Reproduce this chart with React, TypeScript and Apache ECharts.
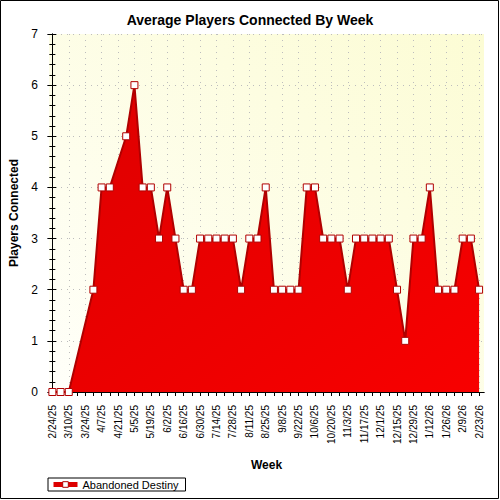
import React, { useEffect, useRef } from 'react';
import * as echarts from 'echarts';

const chartTitle = 'Average Players Connected By Week';
const seriesName = 'Abandoned Destiny';
const xAxisTitle = 'Week';
const yAxisTitle = 'Players Connected';

const weeks = [
  '2/24/25', '3/3/25', '3/10/25', '3/17/25', '3/24/25', '3/31/25', '4/7/25', '4/14/25',
  '4/21/25', '4/28/25', '5/5/25', '5/12/25', '5/19/25', '5/26/25', '6/2/25', '6/9/25',
  '6/16/25', '6/23/25', '6/30/25', '7/7/25', '7/14/25', '7/21/25', '7/28/25', '8/4/25',
  '8/11/25', '8/18/25', '8/25/25', '9/1/25', '9/8/25', '9/15/25', '9/22/25', '9/29/25',
  '10/6/25', '10/13/25', '10/20/25', '10/27/25', '11/3/25', '11/10/25', '11/17/25', '11/24/25',
  '12/1/25', '12/8/25', '12/15/25', '12/22/25', '12/29/25', '1/5/26', '1/12/26', '1/19/26',
  '1/26/26', '2/2/26', '2/9/26', '2/16/26', '2/23/26',
];

// null = no data for that week (line connects across)
const players: (number | null)[] = [
  0, 0, 0, null, null, 2, 4, 4,
  null, 5, 6, 4, 4, 3, 4, 3,
  2, 2, 3, 3, 3, 3, 3, 2,
  3, 3, 4, 2, 2, 2, 2, 4,
  4, 3, 3, 3, 2, 3, 3, 3,
  3, 3, 2, 1, 3, 3, 4, 2,
  2, 2, 3, 3, 2,
];

const yMin = 0;
const yMax = 7;

const FONT = 'Liberation Sans, Arial, sans-serif';

export default function App() {
  const ref = useRef<HTMLDivElement>(null);

  useEffect(() => {
    if (!ref.current) return;
    const chart = echarts.init(ref.current, null, { renderer: 'svg' });

    const allIdx = weeks.map((_, i) => i);
    const labelIdx = allIdx.filter((i) => i % 2 === 0);
    const data = players
      .map((v, i) => [i, v] as [number, number | null])
      .filter((d) => d[1] !== null);

    const xMin = -0.41;
    const xMax = weeks.length - 1 + 0.6;

    const dotted = { color: '#BDBDBD', width: 1, type: [1, 5] as number[] };

    const option: any = {
      animation: false,
      backgroundColor: '#ffffff',
      textStyle: { fontFamily: FONT },
      title: {
        text: chartTitle,
        left: 'center',
        top: 8,
        textStyle: { fontFamily: FONT, fontSize: 14, fontWeight: 'bold', color: '#000' },
      },
      legend: {
        left: 48,
        top: 478,
        padding: [1, 7, 1, 3],
        borderColor: '#000',
        borderWidth: 1,
        borderRadius: 0,
        itemWidth: 24,
        itemHeight: 7,
        itemGap: 6,
        textStyle: { fontFamily: FONT, fontSize: 11, color: '#000' },
        lineStyle: { width: 5, color: '#DD0000' },
        itemStyle: { color: '#ffffff', borderColor: '#B00000', borderWidth: 1 },
        data: [seriesName],
      },
      grid: {
        left: 48,
        right: 16,
        top: 34,
        bottom: 108,
        show: true,
        borderWidth: 0,
        backgroundColor: new echarts.graphic.LinearGradient(0, 1, 1, 0, [
          { offset: 0, color: '#FFFFFA' },
          { offset: 1, color: '#FCFCD4' },
        ]),
      },
      xAxis: [
        {
          type: 'value',
          min: xMin,
          max: xMax,
          position: 'bottom',
          axisLine: { show: true, lineStyle: { color: '#000', width: 1 } },
          axisTick: { show: true, length: 4, inside: false, customValues: allIdx, lineStyle: { color: '#000' } },
          axisLabel: {
            customValues: labelIdx,
            rotate: 90,
            margin: 13,
            fontFamily: FONT,
            fontSize: 10,
            color: '#000',
            formatter: (v: number) => weeks[Math.round(v)] ?? '',
          },
          splitLine: { show: false },
          name: xAxisTitle,
          nameLocation: 'middle',
          nameGap: 67,
          nameTextStyle: { fontFamily: FONT, fontSize: 12, fontWeight: 'bold', color: '#000' },
        },
        {
          type: 'value',
          min: xMin,
          max: xMax,
          position: 'top',
          axisLine: { show: true, lineStyle: { color: '#000', width: 1 } },
          axisTick: { show: true, length: 3, inside: true, customValues: allIdx, lineStyle: { color: '#000' } },
          axisLabel: { show: false },
          splitLine: { show: false },
        },
        {
          type: 'value',
          min: xMin,
          max: xMax,
          position: 'bottom',
          axisLine: { show: false },
          axisTick: { show: false, customValues: labelIdx },
          axisLabel: { show: false, customValues: labelIdx },
          splitLine: { show: true, lineStyle: dotted },
        },
      ],
      yAxis: [
        {
          type: 'value',
          min: yMin,
          max: yMax,
          interval: 1,
          position: 'left',
          axisLine: { show: true, lineStyle: { color: '#000', width: 1 } },
          axisTick: { show: true, length: 5, lineStyle: { color: '#000' } },
          minorTick: { show: true, splitNumber: 5, length: 3, lineStyle: { color: '#000' } },
          axisLabel: { margin: 11, fontFamily: FONT, fontSize: 12, color: '#000' },
          splitLine: { show: true, lineStyle: dotted },
          name: yAxisTitle,
          nameLocation: 'middle',
          nameRotate: 90,
          nameGap: 29,
          nameTextStyle: { fontFamily: FONT, fontSize: 12, fontWeight: 'bold', color: '#000' },
        },
        {
          type: 'value',
          min: yMin,
          max: yMax,
          interval: 1,
          position: 'right',
          axisLine: { show: true, lineStyle: { color: '#000', width: 1 } },
          axisTick: { show: true, length: 4, lineStyle: { color: '#000' } },
          minorTick: { show: true, splitNumber: 5, length: 3, lineStyle: { color: '#000' } },
          axisLabel: { show: false },
          splitLine: { show: false },
        },
      ],
      series: [
        {
          name: seriesName,
          type: 'line',
          xAxisIndex: 0,
          yAxisIndex: 0,
          data,
          connectNulls: true,
          symbol: 'rect',
          symbolSize: 7,
          showAllSymbol: true,
          z: 3,
          lineStyle: { color: '#B00000', width: 2 },
          itemStyle: { color: '#ffffff', borderColor: '#B00000', borderWidth: 1 },
          areaStyle: {
            opacity: 1,
            color: new echarts.graphic.LinearGradient(0, 0, 1, 1, [
              { offset: 0, color: '#DD0000' },
              { offset: 1, color: '#F80000' },
            ]),
          },
        },
      ],
      graphic: [
        {
          type: 'rect',
          silent: true,
          z: 100,
          shape: { x: 0.5, y: 0.5, width: 498, height: 498 },
          style: { fill: 'none', stroke: '#000', lineWidth: 1 },
        },
      ],
    };

    chart.setOption(option);
    return () => chart.dispose();
  }, []);

  return (
    <div
      ref={ref}
      style={{ position: 'fixed', left: 0, top: 0, width: 500, height: 500, background: '#fff' }}
    />
  );
}
